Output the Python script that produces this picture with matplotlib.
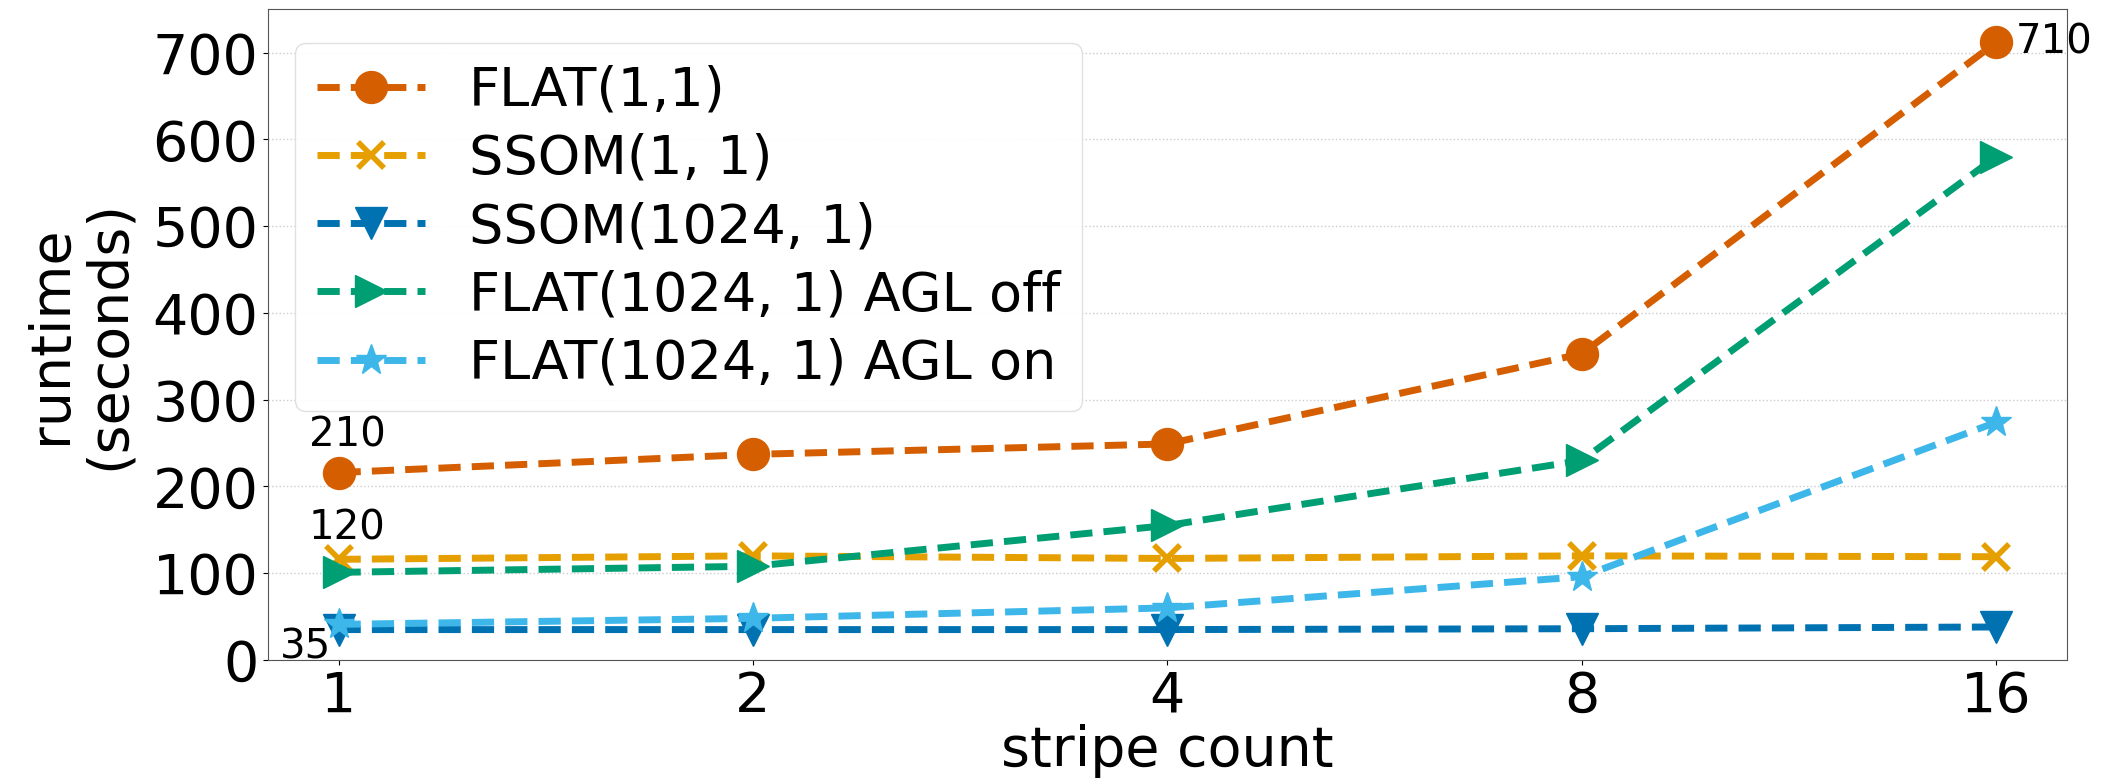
import numpy as np
import matplotlib
matplotlib.use("Agg")
from matplotlib import pyplot as plt

stripes = ["1", "2", "4", "8", "16"]
flat_1_1 = [216, 237, 249, 353, 712]
ssom_1_1 = [116, 120, 117, 120, 119]
ssom_1024_1 = [35, 35, 35, 36, 38]
flat_agl_off = [101, 108, 155, 230, 580]
flat_agl_on = [41, 48, 60, 96, 274]

names = ["FLAT(1,1)", "SSOM(1, 1)", "SSOM(1024, 1)",
         "FLAT(1024, 1) AGL off", "FLAT(1024, 1) AGL on"]
series = [flat_1_1, ssom_1_1, ssom_1024_1, flat_agl_off, flat_agl_on]
colors = ["#D55E00", "#E69F00", "#0072B2", "#009E73", "#3DB7E9"]
markers = ["o", "x", "v", ">", "*"]

# labels written on some points
notes = [("210", 0, 216, (6, 27)), ("120", 0, 116, (6, 22)),
         ("35", 0, 35, (-24, -13)), ("710", 4, 712, (42, 0))]

fig = plt.figure(figsize=(21.11, 7.81), dpi=100)
ax = fig.add_axes([0.127, 0.155, 0.852, 0.833])
x = np.arange(len(stripes))

for vals, name, c, m in zip(series, names, colors, markers):
    ms = 23 if m != "x" else 19
    ax.plot(x, vals, linestyle="--", color=c, marker=m, markersize=ms,
            linewidth=5, markeredgewidth=4 if m == "x" else 1,
            label=name, dashes=(3.2, 1.6))

for txt, i, v, off in notes:
    ax.annotate(txt, (x[i], v), xytext=off, textcoords="offset points",
                ha="center", va="center", fontsize=29)

ax.set_xticks(x)
ax.set_xticklabels(stripes)
ax.set_xlim(-0.17, 4.17)
ax.set_ylim(0, 750)
ax.set_yticks(range(0, 701, 100))
ax.tick_params(labelsize=40)
ax.set_xlabel("stripe count", fontsize=40, labelpad=0)
ax.set_ylabel("runtime\n(seconds)", fontsize=40, linespacing=1.1, labelpad=12)
ax.grid(axis="y", linestyle=":", color="#cccccc", linewidth=1)
ax.set_axisbelow(True)
for s in ax.spines.values():
    s.set_color("#555555")

ax.legend(loc="upper left", fontsize=39, handlelength=2.0,
          borderpad=0.4, labelspacing=0.3, framealpha=0.9,
          edgecolor="#dddddd", bbox_to_anchor=(0.0, 0.99))

fig.savefig("out.png", dpi=100)
